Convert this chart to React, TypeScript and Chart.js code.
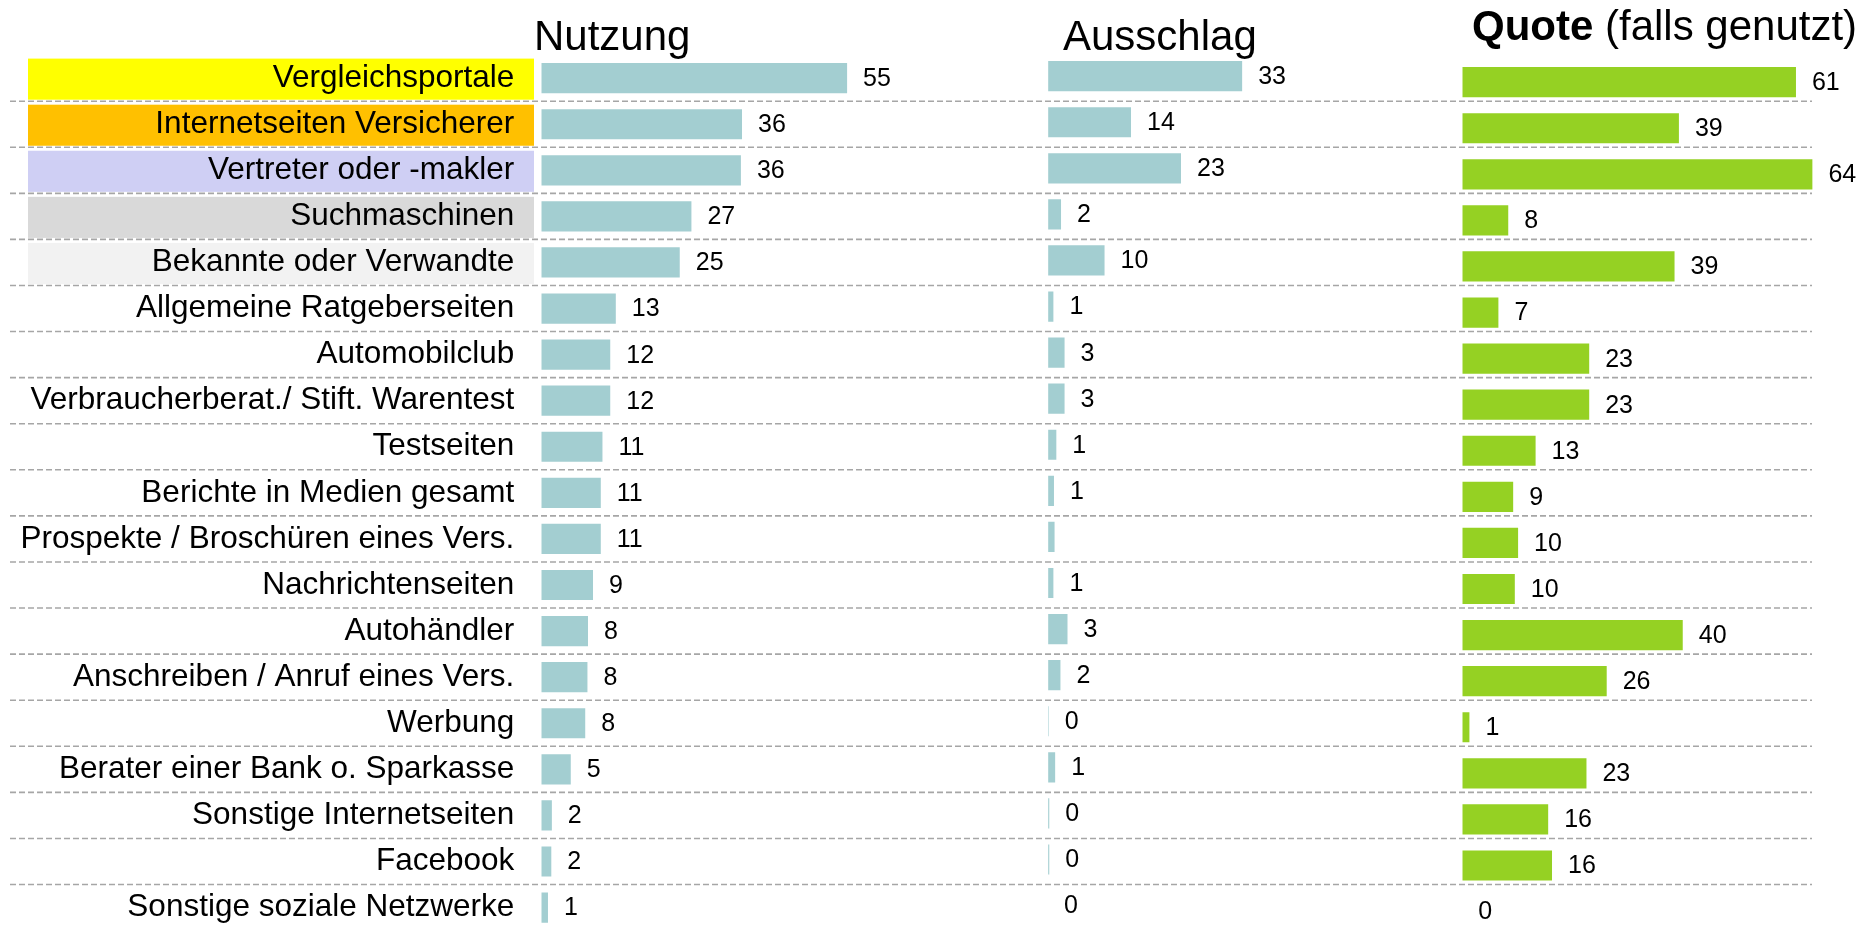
import React, { useEffect, useRef } from "react";
import { Chart, registerables } from "chart.js";

Chart.register(...registerables);

const categories = [
  "Vergleichsportale",
  "Internetseiten Versicherer",
  "Vertreter oder -makler",
  "Suchmaschinen",
  "Bekannte oder Verwandte",
  "Allgemeine Ratgeberseiten",
  "Automobilclub",
  "Verbraucherberat./ Stift. Warentest",
  "Testseiten",
  "Berichte in Medien gesamt",
  "Prospekte / Broschüren eines Vers.",
  "Nachrichtenseiten",
  "Autohändler",
  "Anschreiben / Anruf eines Vers.",
  "Werbung",
  "Berater einer Bank o. Sparkasse",
  "Sonstige Internetseiten",
  "Facebook",
  "Sonstige soziale Netzwerke",
];

const nutzungValues = [55, 36.1, 35.9, 27, 24.9, 13.4, 12.4, 12.4, 11, 10.7, 10.7, 9.3, 8.4, 8.3, 7.9, 5.3, 1.9, 1.8, 1.2];
const nutzungLabels = ["55", "36", "36", "27", "25", "13", "12", "12", "11", "11", "11", "9", "8", "8", "8", "5", "2", "2", "1"];

const ausschlagValues = [33, 14.1, 22.6, 2.2, 9.6, 0.9, 2.8, 2.8, 1.4, 1.0, 1.1, 0.9, 3.3, 2.1, 0.1, 1.2, 0.2, 0.2, 0];
const ausschlagLabels = ["33", "14", "23", "2", "10", "1", "3", "3", "1", "1", "", "1", "3", "2", "0", "1", "0", "0", "0"];

const quoteValues = [61, 39.6, 64, 8.4, 38.8, 6.6, 23.2, 23.2, 13.4, 9.3, 10.2, 9.6, 40.3, 26.4, 1.3, 22.7, 15.7, 16.4, 0];
const quoteLabels = ["61", "39", "64", "8", "39", "7", "23", "23", "13", "9", "10", "10", "40", "26", "1", "23", "16", "16", "0"];

const highlightColors = ["#FFFF00", "#FFC000", "#CFCFF4", "#D9D9D9", "#F2F2F2"];

const FONT = "'Liberation Sans', Arial, Helvetica, sans-serif";
const CANVAS_W = 1876;
const CANVAS_H = 940;
const ROWS_TOP = 54.6;
const ROWS_BOTTOM = 930.1;

type PanelDef = {
  values: number[];
  labels: string[];
  color: string;
  left: number;
  max: number;
  pxPerUnit: number;
  shift: number;
  showCategories: boolean;
  drawExtras: (chart: any) => void;
};

function valueLabelPlugin(labels: string[]) {
  return {
    id: "valueLabels",
    afterDatasetsDraw(chart: any) {
      const ctx = chart.ctx;
      const meta = chart.getDatasetMeta(0);
      ctx.save();
      ctx.font = `25px ${FONT}`;
      ctx.fillStyle = "#000";
      ctx.textAlign = "left";
      ctx.textBaseline = "middle";
      meta.data.forEach((bar: any, i: number) => {
        const t = labels[i];
        if (!t) return;
        ctx.fillText(t, bar.x + 16, bar.y + 1);
      });
      ctx.restore();
    },
  };
}

function drawMainExtras(chart: any) {
  const ctx = chart.ctx;
  const { top, bottom } = chart.chartArea;
  const rowH = (bottom - top) / categories.length;
  ctx.save();
  ctx.strokeStyle = "#A6A6A6";
  ctx.lineWidth = 1.6;
  ctx.setLineDash([6, 3]);
  for (let k = 1; k < categories.length; k++) {
    const y = top + k * rowH;
    ctx.beginPath();
    ctx.moveTo(10, y);
    ctx.lineTo(1812, y);
    ctx.stroke();
  }
  ctx.setLineDash([]);
  ctx.fillStyle = "#000";
  ctx.font = `42px ${FONT}`;
  ctx.textBaseline = "alphabetic";
  ctx.textAlign = "left";
  ctx.fillText("Nutzung", 534, 50);
  ctx.restore();
}

const boxPlugin = {
  id: "labelBoxes",
  beforeDraw(chart: any) {
    const ctx = chart.ctx;
    const { top, bottom } = chart.chartArea;
    const rowH = (bottom - top) / categories.length;
    ctx.save();
    highlightColors.forEach((c, i) => {
      const y0 = top + i * rowH + 3.5;
      const y1 = top + (i + 1) * rowH - 1.5;
      ctx.fillStyle = c;
      ctx.fillRect(28, y0, 534 - 28, y1 - y0);
    });
    ctx.restore();
  },
};

function drawAusschlagTitle(chart: any) {
  const ctx = chart.ctx;
  ctx.save();
  ctx.fillStyle = "#000";
  ctx.font = `42px ${FONT}`;
  ctx.textBaseline = "alphabetic";
  ctx.textAlign = "left";
  ctx.fillText("Ausschlag", 1063, 50);
  ctx.restore();
}

function drawQuoteTitle(chart: any) {
  const ctx = chart.ctx;
  ctx.save();
  ctx.fillStyle = "#000";
  ctx.textBaseline = "alphabetic";
  ctx.textAlign = "left";
  ctx.font = `bold 42px ${FONT}`;
  ctx.fillText("Quote", 1472, 40);
  const w = ctx.measureText("Quote").width;
  ctx.font = `42px ${FONT}`;
  ctx.fillText(" (falls genutzt)", 1472 + w, 40);
  ctx.restore();
}

const panels: PanelDef[] = [
  {
    values: nutzungValues,
    labels: nutzungLabels,
    color: "#A3CED1",
    left: 541.3,
    max: 90,
    pxPerUnit: 5.56,
    shift: 0.5,
    showCategories: true,
    drawExtras: drawMainExtras,
  },
  {
    values: ausschlagValues,
    labels: ausschlagLabels,
    color: "#A3CED1",
    left: 1048.1,
    max: 60,
    pxPerUnit: 5.88,
    shift: -1.5,
    showCategories: false,
    drawExtras: drawAusschlagTitle,
  },
  {
    values: quoteValues,
    labels: quoteLabels,
    color: "#95D123",
    left: 1462.3,
    max: 70,
    pxPerUnit: 5.47,
    shift: 4.5,
    showCategories: false,
    drawExtras: drawQuoteTitle,
  },
];

export default function App() {
  const refs = [useRef<HTMLCanvasElement>(null), useRef<HTMLCanvasElement>(null), useRef<HTMLCanvasElement>(null)];

  useEffect(() => {
    Chart.defaults.font.family = FONT;
    const charts: Chart[] = [];
    panels.forEach((p, idx) => {
      const canvas = refs[idx].current;
      if (!canvas) return;
      const rightPad = CANVAS_W - p.left - p.max * p.pxPerUnit;
      const extraPlugins: any[] = [
        valueLabelPlugin(p.labels),
        { id: "extras" + idx, afterDraw: (c: any) => p.drawExtras(c) },
      ];
      if (p.showCategories) extraPlugins.push(boxPlugin);
      const chart = new Chart(canvas, {
        type: "bar",
        data: {
          labels: categories,
          datasets: [
            {
              data: p.values,
              backgroundColor: p.color,
              borderWidth: 0,
              barPercentage: 0.655,
              categoryPercentage: 1,
            },
          ],
        },
        options: {
          indexAxis: "y",
          responsive: false,
          animation: false,
          events: [],
          layout: {
            padding: {
              top: ROWS_TOP + p.shift,
              bottom: CANVAS_H - ROWS_BOTTOM - p.shift,
              left: p.showCategories ? 0 : p.left,
              right: rightPad,
            },
          },
          plugins: {
            legend: { display: false },
            tooltip: { enabled: false },
            title: { display: false },
          },
          scales: {
            x: { type: "linear", min: 0, max: p.max, display: false },
            y: {
              type: "category",
              display: p.showCategories,
              grid: { display: false, drawTicks: false },
              border: { display: false },
              ticks: {
                autoSkip: false,
                padding: 27,
                color: "#000",
                font: { size: 31.5, family: FONT },
              },
              afterFit: (scale: any) => {
                if (p.showCategories) {
                  scale.width = p.left;
                  scale.paddingTop = 0;
                  scale.paddingBottom = 0;
                }
              },
            },
          },
        } as any,
        plugins: extraPlugins,
      });
      charts.push(chart);
    });
    return () => charts.forEach((c) => c.destroy());
  }, []);

  return (
    <div
      style={{
        position: "fixed",
        left: 0,
        top: 0,
        width: CANVAS_W,
        height: 925,
        overflow: "hidden",
        background: "#fff",
      }}
    >
      {refs.map((r, i) => (
        <canvas
          key={i}
          ref={r}
          width={CANVAS_W}
          height={CANVAS_H}
          style={{ position: "absolute", left: 0, top: 0, width: CANVAS_W, height: CANVAS_H }}
        />
      ))}
    </div>
  );
}
